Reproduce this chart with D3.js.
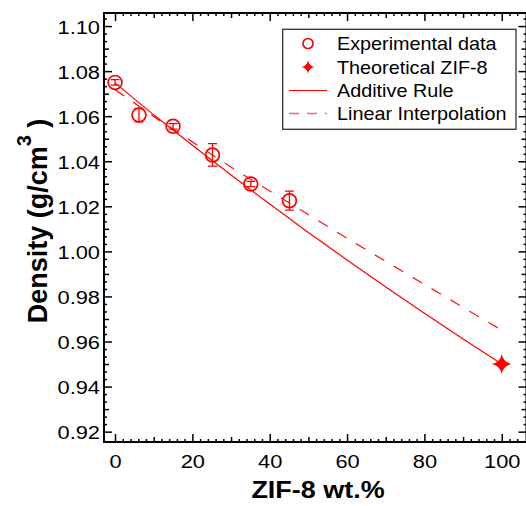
<!DOCTYPE html>
<html>
<head>
<meta charset="utf-8">
<script src="https://cdn.jsdelivr.net/npm/d3@7"></script>
<style>
  body { margin: 0; background: #fff; }
  svg { display: block; font-family: Arial, "Liberation Sans", sans-serif; }
</style>
</head>
<body>
<svg id="chart" width="526" height="506"></svg>
<script>
// experimental points (ZIF-8 wt.%, density, error)
const expX = [0, 6.2, 15, 25.2, 35.1, 45.1];
const expY = [1.075, 1.0605, 1.0555, 1.0428, 1.0299, 1.0225];
const expErr = [0.0012, 0.003, 0.0012, 0.005, 0.0012, 0.0042];

const zifX = [100];
const zifY = [0.95];

// additive rule curve
const addX = [0, 10, 20, 30, 40, 50, 60, 70, 80, 90, 100];
const addY = [1.0748, 1.0606, 1.0471, 1.0339, 1.021, 1.0084, 0.9962, 0.9842, 0.9725, 0.9611, 0.95];

// linear interpolation
const linX = [0, 11, 31, 60, 92, 100];
const linY = [1.0718, 1.0587, 1.0363, 1.0058, 0.9731, 0.965];

const xTickVals = [0, 20, 40, 60, 80, 100];
const yTickVals = [0.92, 0.94, 0.96, 0.98, 1.0, 1.02, 1.04, 1.06, 1.08, 1.1];

const legendLabels = ["Experimental data", "Theoretical ZIF-8", "Additive Rule", "Linear Interpolation"];

const RED = "#ff0000";
const svg = d3.select("#chart");

const pl = 104, pr = 526.5, pt = 13, pb = 442;
const x = d3.scaleLinear().domain([-2.85, 106.4]).range([pl, pr]);
const y = d3.scaleLinear().domain([0.9154, 1.1058]).range([pb, pt]);

const sx = 1.15; // the original text is a bit wide

// minor / mid ticks
const xMid = xTickVals.map(d => d + 10).filter(d => d < 106);
const xMinor = d3.range(2, 106, 2).filter(d => d % 10 !== 0);
const yMid = yTickVals.map(d => +(d + 0.01).toFixed(3)).filter(d => d < 1.105);
const yMinor = d3.range(0, 60).map(i => 0.92 + i * 0.02 / 6)
  .filter((d, i) => i % 3 !== 0 && d < 1.105);

function tickAxis(axisFn, scale, vals, len) {
  return axisFn(scale).tickValues(vals).tickSize(len).tickFormat("");
}

function drawAxis(g) {
  g.select(".domain").remove();
  g.selectAll(".tick line").attr("stroke", "#000").attr("stroke-width", 1.5);
}

[[xTickVals, -8], [xMid, -5], [xMinor, -3]].forEach(([v, l]) => {
  svg.append("g").attr("transform", `translate(0,${pb})`)
    .call(tickAxis(d3.axisBottom, x, v, l)).call(drawAxis);
  svg.append("g").attr("transform", `translate(0,${pt})`)
    .call(tickAxis(d3.axisTop, x, v, l)).call(drawAxis);
});
[[yTickVals, -8], [yMid, -5], [yMinor, -3]].forEach(([v, l]) => {
  svg.append("g").attr("transform", `translate(${pl},0)`)
    .call(tickAxis(d3.axisLeft, y, v, l)).call(drawAxis);
  svg.append("g").attr("transform", `translate(${pr},0)`)
    .call(tickAxis(d3.axisRight, y, v, l)).call(drawAxis);
});

// labels
const xLab = svg.append("g").attr("transform", `translate(0,${pb})`)
  .call(d3.axisBottom(x).tickValues(xTickVals).tickSize(0).tickPadding(0).tickFormat(d3.format("d")));
xLab.select(".domain").remove();
xLab.selectAll("text").attr("font-size", 19).attr("font-family", "Arial, 'Liberation Sans'")
  .attr("fill", "#000").attr("dy", null).attr("y", 26)
  .attr("transform", `scale(${sx},1)`);

const yLab = svg.append("g").attr("transform", `translate(${pl},0)`)
  .call(d3.axisLeft(y).tickValues(yTickVals).tickSize(0).tickPadding(0).tickFormat(d3.format(".2f")));
yLab.select(".domain").remove();
yLab.selectAll("text").attr("font-size", 19).attr("font-family", "Arial, 'Liberation Sans'")
  .attr("fill", "#000").attr("dy", null).attr("y", 7).attr("x", -4 / sx)
  .attr("transform", `scale(${sx},1)`);

// frame
svg.append("path")
  .attr("d", `M${pl},${pt}H${pr}V${pb}H${pl}Z`)
  .attr("fill", "none").attr("stroke", "#000").attr("stroke-width", 2);

// lines
const line = d3.line().x(d => x(d[0])).y(d => y(d[1]));
svg.append("path")
  .attr("d", line(d3.zip(linX, linY)))
  .attr("fill", "none").attr("stroke", RED).attr("stroke-opacity", 0.9)
  .attr("stroke-width", 1.3).attr("stroke-dasharray", "11,11");
svg.append("path")
  .attr("d", line(d3.zip(addX, addY)))
  .attr("fill", "none").attr("stroke", RED).attr("stroke-width", 1.2);

// error bars
const exp = expX.map((d, i) => ({ x: d, y: expY[i], e: expErr[i] }));
const eb = svg.append("g").attr("stroke", RED).attr("stroke-width", 1.3).attr("fill", "none");
eb.selectAll("path").data(exp).join("path")
  .attr("d", d => {
    const cx = x(d.x), y0 = y(d.y - d.e), y1 = y(d.y + d.e);
    return `M${cx},${y0}V${y1}M${cx - 4.5},${y0}H${cx + 4.5}M${cx - 4.5},${y1}H${cx + 4.5}`;
  });

svg.append("g").selectAll("circle").data(exp).join("circle")
  .attr("cx", d => x(d.x)).attr("cy", d => y(d.y)).attr("r", 6.9)
  .attr("fill", "none").attr("stroke", RED).attr("stroke-width", 1.7);

function star(R) {
  const c = R * 0.16;
  return `M0,${-R}Q${c},${-c} ${R},0Q${c},${c} 0,${R}Q${-c},${c} ${-R},0Q${-c},${-c} 0,${-R}Z`;
}
svg.append("g").selectAll("path").data(zifX.map((d, i) => [d, zifY[i]])).join("path")
  .attr("transform", d => `translate(${x(d[0])},${y(d[1])})`)
  .attr("d", star(10)).attr("fill", RED);

// legend
const lg = svg.append("g");
lg.append("rect").attr("x", 282.7).attr("y", 29.3).attr("width", 233.3).attr("height", 100)
  .attr("fill", "#fff").attr("stroke", "#333").attr("stroke-width", 1.3);
const rowY = [43.5, 67, 90.5, 113.5];
lg.append("circle").attr("cx", 308).attr("cy", rowY[0]).attr("r", 5)
  .attr("fill", "none").attr("stroke", RED).attr("stroke-width", 1.7);
lg.append("path").attr("transform", `translate(308,${rowY[1]})`).attr("d", star(6.5)).attr("fill", RED);
lg.append("line").attr("x1", 289).attr("x2", 327).attr("y1", rowY[2]).attr("y2", rowY[2])
  .attr("stroke", RED).attr("stroke-width", 1.2);
lg.append("line").attr("x1", 289).attr("x2", 327).attr("y1", rowY[3]).attr("y2", rowY[3])
  .attr("stroke", RED).attr("stroke-opacity", 0.6).attr("stroke-width", 1.6).attr("stroke-dasharray", "10,8");
lg.selectAll("text").data(legendLabels).join("text")
  .attr("transform", (d, i) => `translate(337,${rowY[i] + 6.5}) scale(1.1,1)`)
  .attr("font-size", 18).attr("fill", "#000").text(d => d);

// titles
svg.append("text")
  .attr("transform", `translate(318,498) scale(1.1,1)`)
  .attr("text-anchor", "middle").attr("font-size", 24.5).attr("font-weight", "bold")
  .text("ZIF-8 wt.%");

const yt = svg.append("text")
  .attr("transform", `translate(47,221) rotate(-90) scale(1,1.05)`)
  .attr("text-anchor", "middle").attr("font-size", 27).attr("font-weight", "bold");
yt.append("tspan").text("Density (g/cm");
yt.append("tspan").attr("font-size", 20).attr("dy", -15).text("3");
yt.append("tspan").attr("dy", 15).text(" )");
</script>
</body>
</html>
